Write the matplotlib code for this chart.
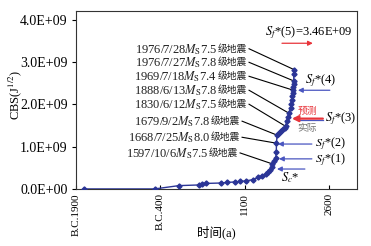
import matplotlib
matplotlib.use("Agg")
import matplotlib.pyplot as plt
from matplotlib.ticker import FuncFormatter

plt.rcParams['font.family'] = ['Liberation Serif', 'Noto Sans CJK SC']
plt.rcParams['mathtext.fontset'] = 'stix'

# cumulative Benioff strain curve
years = [-1767, -500, -70, 290, 346, 417, 683, 789, 931, 1020, 1127, 1251,
         1340, 1411, 1482, 1517, 1553, 1588, 1597, 1626, 1654, 1665, 1668,
         1679, 1695, 1725, 1750, 1786, 1815, 1830, 1850, 1879, 1888, 1920,
         1931, 1937, 1950, 1966, 1969.5, 1970, 1973, 1976.0, 1976.5, 1976.6]
cbs = [0.0, 0.0, 0.078, 0.094, 0.106, 0.13, 0.14, 0.153, 0.165, 0.176, 0.19,
       0.22, 0.27, 0.31, 0.35, 0.40, 0.45, 0.52, 0.59, 0.66, 0.73, 0.87, 1.08,
       1.27, 1.29, 1.34, 1.365, 1.41, 1.435, 1.48, 1.60, 1.69, 1.79, 1.91,
       2.0, 2.09, 2.19, 2.26, 2.33, 2.40, 2.47, 2.55, 2.72, 2.82]
cbs = [v * 1e9 for v in cbs]

xticks = [-1900, -400, 1100, 2600]
xticklabels = ['B.C.1900', 'B.C.400', '1100', '2600']

# labelled earthquakes: date, magnitude, point on curve
eq_dates = ['1976/7/28', '1976/7/27', '1969/7/18', '1888/6/13', '1830/6/12',
            '1679/9/2', '1668/7/25', '1597/10/6']
eq_mags = ['7.5', '7.8', '7.4', '7.8', '7.5', '7.8', '8.0', '7.5']
eq_x = [1976.6, 1976.0, 1969.5, 1888, 1830, 1679, 1668, 1597]
eq_y = [2.82e9, 2.55e9, 2.33e9, 1.79e9, 1.48e9, 1.27e9, 1.08e9, 0.59e9]

sf5 = 3.46e9

fig = plt.figure(figsize=(3.71, 2.46), dpi=100)
ax = fig.add_axes([0.205, 0.232, 0.757, 0.723])

line_c = '#2b3596'
blue = '#4a56c0'
red = '#e8343a'

ax.plot(years, cbs, color=line_c, lw=1.0, marker='D', ms=2.6, zorder=3)

ax.set_xlim(-1900, 3100)
ax.set_ylim(0, 4.2e9)
ax.set_xticks(xticks)
ax.set_xticklabels(xticklabels, rotation=90, fontsize=8)
ax.set_yticks([0, 1e9, 2e9, 3e9, 4e9])
ax.yaxis.set_major_formatter(FuncFormatter(lambda v, p: '%.1E' % v))
ax.tick_params(axis='y', direction='out', length=3, labelsize=10, pad=3)
ax.tick_params(axis='x', direction='in', length=3, pad=3)
for s in ax.spines.values():
    s.set_linewidth(0.8)
    s.set_color('#333333')

fig.text(0.042, 0.614, 'CBS(J$^{1/2}$)', fontsize=9, rotation=90,
         ha='center', va='center')
fig.text(0.582, 0.057, '时间(a)', fontsize=9, ha='center', va='center')

# earthquake labels with leader lines
lab_x = [1145, 1145, 1145, 1145, 1145, 1021, 1021, 985]
lab_y = [3.31e9, 2.99e9, 2.66e9, 2.33e9, 2.0e9, 1.60e9, 1.22e9, 0.85e9]
for d, m, ex, ey, lx, ly in zip(eq_dates, eq_mags, eq_x, eq_y, lab_x, lab_y):
    ax.annotate('级地震', xy=(lx, ly), fontsize=7, ha='right', va='center',
                family='Noto Sans CJK SC', color='#222222')
    ax.annotate(d + '$M_{\\mathrm{S}}$' + m, xy=(lx, ly), xytext=(-21.5, -0.5),
                textcoords='offset points', fontsize=9, ha='right', va='center',
                color='#222222')
    ax.plot([lx + 35, ex], [ly, ey], color='black', lw=0.8, zorder=2)

# S_f* arrows
arr = dict(arrowstyle='-|>', color=blue, lw=0.9, mutation_scale=7, shrinkA=0, shrinkB=0)
ax.text(1464, 3.69e9, '$S_f$*(5)=3.46E+09', fontsize=9, va='center')
ax.annotate('', xy=(2316, 3.44e9), xytext=(1766, 3.44e9),
            arrowprops=dict(arrowstyle='-|>', color=red, lw=0.9, mutation_scale=7,
                            shrinkA=0, shrinkB=0))
ax.text(2174, 2.56e9, '$S_f$*(4)', fontsize=9, va='center')
ax.annotate('', xy=(2050, 2.33e9), xytext=(2618, 2.33e9), arrowprops=arr)

ax.text(2210, 1.84e9, '预测', fontsize=7, color=red, ha='center', va='center',
        family='Noto Sans CJK SC')
ax.text(2210, 1.45e9, '实际', fontsize=7, color='#777777', ha='center', va='center',
        family='Noto Sans CJK SC')
ax.plot([2050, 2494], [1.62e9, 1.62e9], color=blue, lw=0.9, zorder=2)
ax.annotate('', xy=(1943, 1.66e9), xytext=(2494, 1.66e9),
            arrowprops=dict(arrowstyle='-|>', color=red, lw=1.6, mutation_scale=9,
                            shrinkA=0, shrinkB=0))
ax.text(2530, 1.65e9, '$S_f$*(3)', fontsize=9, va='center')

ax.text(2352, 1.07e9, '$S_f$*(2)', fontsize=8.8, va='center')
ax.annotate('', xy=(1695, 1.06e9), xytext=(2298, 1.06e9), arrowprops=arr)
ax.text(2352, 0.70e9, '$S_f$*(1)', fontsize=8.8, va='center')
ax.annotate('', xy=(1712, 0.71e9), xytext=(2298, 0.71e9), arrowprops=arr)
ax.text(1908, 0.27e9, '$S_c$*', fontsize=9, ha='center', va='center')
ax.annotate('', xy=(1677, 0.47e9), xytext=(2174, 0.47e9), arrowprops=arr)

fig.savefig('out.png', dpi=100)
